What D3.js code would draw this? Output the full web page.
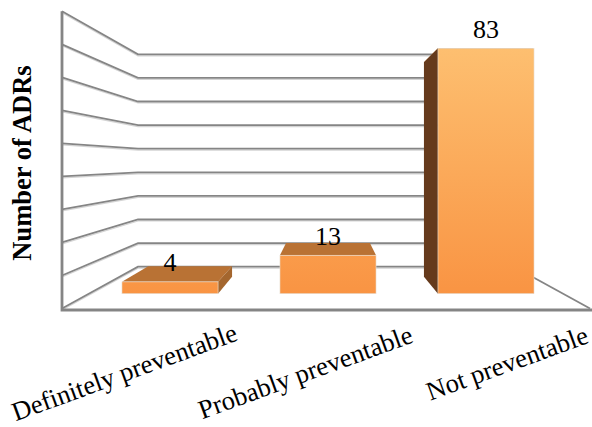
<!DOCTYPE html>
<html>
<head>
<meta charset="utf-8">
<script src="https://cdn.jsdelivr.net/npm/d3@7"></script>
<style>
html,body{margin:0;padding:0;background:#fff;}
svg{display:block;}
text{font-family:"Liberation Serif",serif;fill:#000;}
</style>
</head>
<body>
<svg id="chart" width="592" height="427"></svg>
<script>
const categories = ["Definitely preventable", "Probably preventable", "Not preventable"];
const values = [4, 13, 83];
const gridTicks = [0, 10, 20, 30, 40, 50, 60, 70, 80, 90];
const axisTitle = "Number of ADRs";

const svg = d3.select("#chart");

// Pseudo-3D box: wall lines run from the front edge to the back corner.
const wallFront = d3.scaleLinear().domain([0, 90]).range([308.5, 11.3]);
const wallBack = d3.scaleLinear().domain([0, 90]).range([266.7, 54.3]);
const frontLeft = 62, backLeft = 138, backRight = 514, frontRight = 590;

// Bars have a near face and a receding far face.
const barFront = d3.scaleLinear().domain([0, 83]).range([293.7, 48.3]);
const barBack = d3.scaleLinear().domain([0, 83]).range([276.7, 62.3]);
const band = d3.scaleBand().domain(categories).range([91, 565]).paddingInner(0.392).paddingOuter(0.196);
const vanishX = 328, depthRatio = 0.8725;
const recede = x => vanishX + (x - vanishX) * depthRatio;

const defs = svg.append("defs");
const grad = defs.append("linearGradient").attr("id", "barFill")
  .attr("gradientUnits", "userSpaceOnUse").attr("x1", 0).attr("x2", 0).attr("y1", 48).attr("y2", 294);
grad.append("stop").attr("offset", 0).attr("stop-color", "#fdbf70");
grad.append("stop").attr("offset", 1).attr("stop-color", "#f99443");

const line = d3.line();
const gridColor = "#858585";

// Soft under-stroke, then the wall grid.
[["#d4d4d4", 1.2, 1.5], [gridColor, 1.8, 0]].forEach(([color, width, dy]) => {
  svg.append("g").selectAll("path").data(gridTicks).join("path")
    .attr("d", t => line([[frontLeft, wallFront(t) + dy], [backLeft, wallBack(t) + dy], [backRight, wallBack(t) + dy]]))
    .attr("fill", "none").attr("stroke", color).attr("stroke-width", width);
});

// Floor edges and the left wall's front edge.
svg.append("path")
  .attr("d", line([[frontRight, wallFront(0)], [backRight, wallBack(0)]]))
  .attr("fill", "none").attr("stroke", gridColor).attr("stroke-width", 1.8);
svg.append("path")
  .attr("d", line([[frontLeft, wallFront(90)], [frontLeft, wallFront(0) + 1.5], [frontRight + 2, wallFront(0) + 1.5]]))
  .attr("fill", "none").attr("stroke", gridColor).attr("stroke-width", 2.8);

const bars = svg.append("g").selectAll("g").data(categories.map((c, i) => ({c, v: values[i]}))).join("g");
const x0 = d => band(d.c), x1 = d => band(d.c) + band.bandwidth();
const polygon = pts => line(pts) + "Z";

// Top face
bars.append("path").attr("fill", "#b97234")
  .attr("d", d => polygon([[x0(d), barFront(d.v)], [x1(d), barFront(d.v)], [recede(x1(d)), barBack(d.v)], [recede(x0(d)), barBack(d.v)]]));

// Side face visible on whichever side lies away from the vanishing point
bars.append("path")
  .attr("fill", d => d.v > 50 ? "#653a1c" : "#a4662e")
  .attr("d", d => {
    const edge = x1(d) < vanishX ? x1(d) : (x0(d) > vanishX ? x0(d) : null);
    if (edge === null) return null;
    return polygon([[edge, barFront(d.v)], [recede(edge), barBack(d.v)], [recede(edge), barBack(0)], [edge, barFront(0)]]);
  });

// Front face
bars.append("rect")
  .attr("x", x0).attr("width", band.bandwidth())
  .attr("y", d => barFront(d.v)).attr("height", d => barFront(0) - barFront(d.v))
  .attr("fill", "url(#barFill)").attr("stroke", "#e8e0d6").attr("stroke-width", 0.6);

// Value labels
bars.append("text")
  .attr("x", d => band(d.c) + band.bandwidth() / 2)
  .attr("y", d => barFront(d.v) - 10.5)
  .attr("text-anchor", "middle").attr("font-size", 26)
  .text(d => d.v);

// Rotated category labels, anchored at their upper-right end
svg.append("g").selectAll("text").data(categories).join("text")
  .attr("text-anchor", "end").attr("font-size", 26.5)
  .attr("transform", (c, i) => `translate(${[239, 414.5, 590][i]},${[340, 342, 342.5][i]}) rotate(-20)`)
  .text(c => c);

// Axis title
svg.append("text")
  .attr("transform", "translate(31,163) rotate(-90)")
  .attr("text-anchor", "middle").attr("font-size", 26.5).attr("font-weight", "bold")
  .text(axisTitle);
</script>
</body>
</html>
